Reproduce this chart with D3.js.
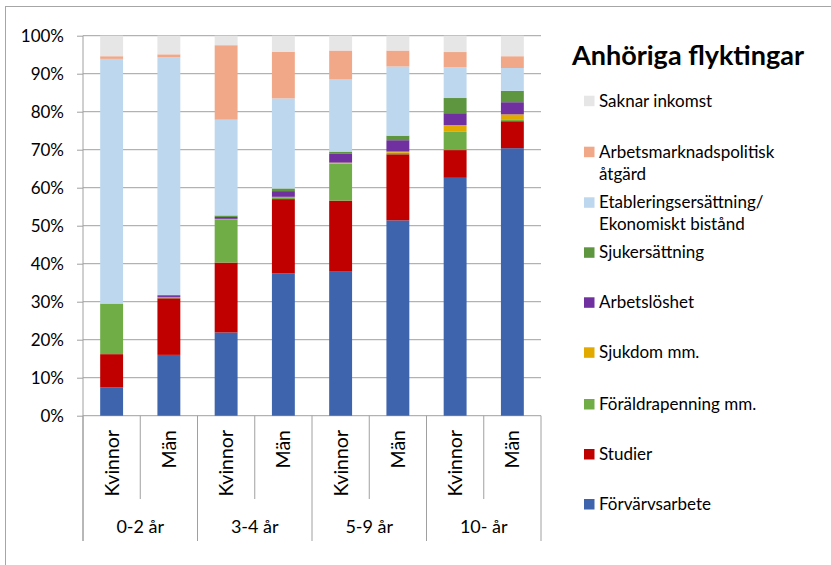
<!DOCTYPE html>
<html><head><meta charset="utf-8">
<script src="https://cdn.jsdelivr.net/npm/d3@7"></script>
<style>
body{margin:0;background:#fff}
svg{display:block}
text{font-family:Lato,"Open Sans",sans-serif;fill:#000}
</style>
</head><body>
<svg id="c" width="831" height="565"></svg>
<script>
// ---- data ----
const barLabels = ["Kvinnor","Män","Kvinnor","Män","Kvinnor","Män","Kvinnor","Män"];
const groupLabels = ["0-2 år","3-4 år","5-9 år","10- år"];
const seriesNames = ["Förvärvsarbete","Studier","Föräldrapenning mm.","Sjukdom mm.","Arbetslöshet","Sjukersättning","Etableringsersättning/\nEkonomiskt bistånd","Arbetsmarknadspolitisk\nåtgärd","Saknar inkomst"];
const seriesColors = ["#3D64AD","#C00000","#70AD47","#E2A900","#7030A0","#5E9640","#BDD7EE","#F0A889","#E6E6E6"];
const forvarvsarbete   = [7.5, 16.0, 21.9, 37.5, 37.9, 51.4, 62.6, 70.4];
const studier          = [8.7, 14.9, 18.4, 19.5, 18.7, 17.4, 7.3, 7.1];
const foraldrapenning  = [13.2, 0.3, 11.4, 0.5, 9.7, 0.4, 4.8, 0.5];
const sjukdom          = [0.0, 0.05, 0.1, 0.1, 0.3, 0.3, 1.8, 1.3];
const arbetsloshet     = [0.05, 0.25, 0.5, 1.5, 2.3, 3.0, 3.1, 3.2];
const sjukersattning   = [0.05, 0.3, 0.4, 0.7, 0.6, 1.2, 4.0, 3.0];
const etablering       = [64.4, 62.5, 25.2, 23.7, 19.1, 18.2, 8.1, 6.0];
const arbetsmarknad    = [0.7, 0.8, 19.6, 12.3, 7.5, 4.2, 4.0, 3.1];
const saknarInkomst    = [5.4, 4.9, 2.5, 4.2, 3.9, 3.9, 4.3, 5.4];
const yTicks = [0,10,20,30,40,50,60,70,80,90,100];
const title = "Anhöriga flyktingar";

const seriesValues = [forvarvsarbete, studier, foraldrapenning, sjukdom, arbetsloshet, sjukersattning, etablering, arbetsmarknad, saknarInkomst];

// ---- layout ----
const svg = d3.select("#c");
const L = 83, R = 541, T = 35.7, B = 415.7;

svg.append("rect").attr("x",5.5).attr("y",6.5).attr("width",1000).attr("height",1000)
  .attr("fill","none").attr("stroke","#a6a6a6").attr("stroke-width",1);

const x = d3.scaleBand().domain(d3.range(barLabels.length)).range([L,R]).paddingInner(0.6).paddingOuter(0.3);
const y = d3.scaleLinear().domain([0,100]).range([B,T]);

// gridlines
svg.append("g").selectAll("line").data(yTicks).join("line")
  .attr("x1",L).attr("x2",R).attr("y1",d=>y(d)).attr("y2",d=>y(d))
  .attr("stroke","#a0a0a0").attr("stroke-width",1);

// y axis
const yAxis = svg.append("g").attr("transform",`translate(${L},0)`)
  .call(d3.axisLeft(y).tickValues(yTicks).tickFormat(d=>d+"%").tickSize(6).tickPadding(13));
yAxis.select(".domain").remove();
yAxis.selectAll(".tick line").attr("stroke","#a0a0a0");
yAxis.selectAll(".tick text").attr("font-size",17).attr("font-family","Lato").attr("fill","#000");

// stacked bars
const rows = barLabels.map((_,i)=>{const o={i}; seriesNames.forEach((s,k)=>o[k]=seriesValues[k][i]); return o;});
const stack = d3.stack().keys(d3.range(seriesNames.length))(rows);
svg.append("g").selectAll("g").data(stack).join("g")
  .attr("fill",(d,k)=>seriesColors[k])
  .selectAll("rect").data(d=>d).join("rect")
  .attr("x",d=>x(d.data.i)).attr("width",x.bandwidth())
  .attr("y",d=>y(d[1])).attr("height",d=>Math.max(0,y(d[0])-y(d[1])));

// x axis structure
const step = x.step();
svg.append("line").attr("x1",L).attr("x2",L).attr("y1",T).attr("y2",541).attr("stroke","#a0a0a0");
const seps = d3.range(barLabels.length+1);
svg.append("g").selectAll("line").data(seps).join("line")
  .attr("x1",k=>L+k*step).attr("x2",k=>L+k*step)
  .attr("y1",B).attr("y2",k=>k%2===0?541:499)
  .attr("stroke","#a0a0a0").attr("stroke-width",1);

svg.append("g").selectAll("text").data(barLabels).join("text")
  .attr("transform",(d,i)=>`translate(${x(i)+x.bandwidth()/2+7},430) rotate(-90)`)
  .attr("text-anchor","end").attr("font-size",19.5).text(d=>d);

svg.append("g").selectAll("text").data(groupLabels).join("text")
  .attr("x",(d,g)=>L+step*(2*g+1)).attr("y",533)
  .attr("text-anchor","middle").attr("font-size",18).text(d=>d);

// title
svg.append("text").attr("x",572).attr("y",65).attr("font-size",27).attr("font-weight","bold").text(title);

// legend
const legY = [504,454,404,352.3,302.3,252.3,202.3,151.7,100.7];
const leg = svg.append("g").selectAll("g").data(seriesNames).join("g")
  .attr("transform",(d,k)=>`translate(584,${legY[k]})`);
leg.append("rect").attr("x",0).attr("y",-5).attr("width",10.5).attr("height",10.5).attr("fill",(d,k)=>seriesColors[k]);
leg.each(function(d){
  const lines = d.split("\n");
  const t = d3.select(this).append("text").attr("x",15).attr("y",6).attr("font-size",17);
  lines.forEach((ln,j)=>t.append("tspan").attr("x",15).attr("dy",j===0?0:22).text(ln));
});
</script>
</body></html>
